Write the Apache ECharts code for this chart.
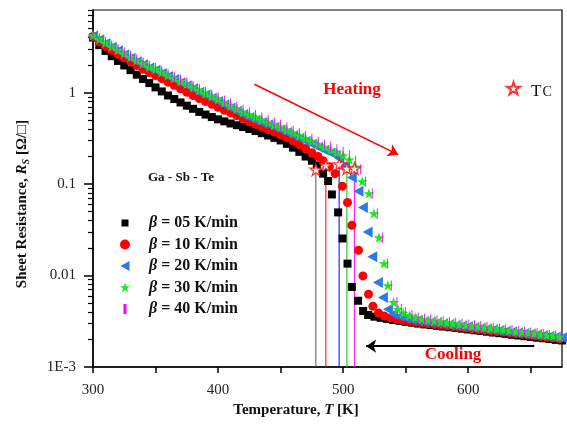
<!DOCTYPE html>
<html><head><meta charset="utf-8">
<script src="https://cdn.jsdelivr.net/npm/echarts@6.0.0/dist/echarts.min.js"></script>
<style>html,body{margin:0;padding:0;background:#fff}#c{width:567px;height:430px}</style>
</head><body><div id="c"></div>
<script>
// ---------- data ----------
const seriesNames = ['β = 05 K/min', 'β = 10 K/min', 'β = 20 K/min', 'β = 30 K/min', 'β = 40 K/min'];

const temp05 = [300,305,310,315,320,325,330,335,340,345,350,355,360,365,370,375,380,385,390,395,400,405,410,415,420,425,430,435,440,445,450,455,460,465,470,475,
  479,484,488,491,496,499.5,503.5,507,512,516,
  520,525,530,535,540,545,550,555,560,565,570,575,580,585,590,595,600,605,610,615,620,625,630,635,640,645,650,655,660,665,670,675];
const res05 = [4.0,3.3,2.85,2.5,2.22,1.98,1.76,1.57,1.41,1.27,1.14,1.03,0.93,0.85,0.78,0.72,0.665,0.615,0.575,0.54,0.51,0.485,0.46,0.44,0.42,0.40,0.38,0.36,0.34,0.32,0.30,0.275,0.25,0.225,0.2,0.18,
  0.16,0.13,0.108,0.077,0.049,0.0254,0.0135,0.0075,0.0053,0.0041,
  0.0037,0.00355,0.00345,0.00336,0.00327,0.00319,0.00312,0.00305,0.00298,0.00292,0.00287,0.00282,0.00277,0.00272,0.00267,0.00262,0.00257,0.00252,0.00248,0.00243,0.00238,0.00234,0.0023,0.00225,0.00221,0.00217,0.00213,0.00209,0.00206,0.00202,0.00198,0.00195];

const temp10 = [300,305,310,315,320,325,330,335,340,345,350,355,360,365,370,375,380,385,390,395,400,405,410,415,420,425,430,435,440,445,450,455,460,465,470,475,480,
  484,489,493.6,499.4,503.5,507,512.3,515.8,520.3,523.8,528.3,
  533,538,543,548,553,558,563,568,573,578,583,588,593,598,603,608,613,618,623,628,633,638,643,648,653,658,663,668,673];
const res10 = [4.1,3.6,3.2,2.9,2.62,2.4,2.18,1.98,1.8,1.66,1.54,1.42,1.3,1.2,1.1,1.01,0.93,0.86,0.8,0.745,0.69,0.64,0.6,0.56,0.52,0.48,0.45,0.42,0.395,0.37,0.345,0.32,0.295,0.27,0.245,0.22,0.2,
  0.18,0.155,0.13,0.0946,0.0628,0.0355,0.0189,0.0099,0.00625,0.00462,0.00389,
  0.0036,0.00345,0.00333,0.00323,0.00315,0.00309,0.00303,0.00297,0.00292,0.00287,0.00282,0.00277,0.00272,0.00267,0.00262,0.00257,0.00253,0.00249,0.00244,0.0024,0.00236,0.00231,0.00227,0.00223,0.00219,0.00215,0.00211,0.00207,0.00203];

const temp20 = [300,305,310,315,320,325,330,335,340,345,350,355,360,365,370,375,380,385,390,395,400,405,410,415,420,425,430,435,440,445,450,455,460,465,470,475,480,485,490,
  494,497,501.6,507,512.3,515.8,519.6,523.3,527.8,531.8,535.8,
  540,545,550,555,560,565,570,575,580,585,590,595,600,605,610,615,620,625,630,635,640,645,650,655,660,665,670,675];
const res20 = [4.15,3.78,3.44,3.13,2.86,2.6,2.37,2.18,2.02,1.86,1.75,1.62,1.5,1.39,1.28,1.19,1.1,1.01,0.94,0.865,0.8,0.736,0.68,0.625,0.575,0.533,0.5,0.472,0.444,0.417,0.393,0.366,0.34,0.316,0.294,0.273,0.253,0.235,0.219,
  0.206,0.19,0.16,0.118,0.0834,0.0554,0.03,0.016,0.0084,0.00575,0.00428,
  0.0038,0.00358,0.00343,0.00331,0.00322,0.00315,0.00309,0.00303,0.00297,0.00291,0.00285,0.0028,0.00275,0.0027,0.00265,0.0026,0.00255,0.0025,0.00246,0.00241,0.00237,0.00233,0.00229,0.00225,0.00221,0.00217,0.00213,0.00209];

const temp30 = [300,305,310,315,320,325,330,335,340,345,350,355,360,365,370,375,380,385,390,395,400,405,410,415,420,425,430,435,440,445,450,455,460,465,470,475,480,485,490,495,500,505,510,
  515.3,520.6,524.6,528.7,532.7,535.8,540.3,543.8,
  548,553,558,563,568,573,578,583,588,593,598,603,608,613,618,623,628,633,638,643,648,653,658,663,668,673];
const res30 = [4.2,3.85,3.5,3.2,2.93,2.68,2.45,2.25,2.08,1.92,1.8,1.67,1.55,1.44,1.33,1.24,1.15,1.06,0.98,0.91,0.85,0.78,0.72,0.665,0.615,0.575,0.54,0.505,0.475,0.445,0.42,0.39,0.365,0.34,0.316,0.295,0.273,0.254,0.237,0.222,0.205,0.185,0.155,
  0.107,0.0787,0.0476,0.026,0.0135,0.0078,0.0051,0.0043,
  0.0039,0.00365,0.00347,0.00333,0.00325,0.00318,0.00312,0.00305,0.00299,0.00293,0.00287,0.00281,0.00276,0.0027,0.00265,0.0026,0.00255,0.0025,0.00245,0.0024,0.00236,0.00232,0.00227,0.00223,0.00219,0.00213];

const temp40 = [300,305,310,315,320,325,330,335,340,345,350,355,360,365,370,375,380,385,390,395,400,405,410,415,420,425,430,435,440,445,450,455,460,465,470,475,480,485,490,495,500,505,510,
  514,518,523.3,527.3,531.4,535.4,538.5,543,546.5,
  550,555,560,565,570,575,580,585,590,595,600,605,610,615,620,625,630,635,640,645,650,655,660,665,670,675];
const res40 = [4.25,3.92,3.58,3.28,3.0,2.76,2.53,2.32,2.14,1.98,1.86,1.72,1.6,1.49,1.38,1.28,1.19,1.1,1.02,0.95,0.89,0.82,0.76,0.70,0.65,0.61,0.57,0.535,0.5,0.47,0.445,0.415,0.385,0.36,0.335,0.312,0.29,0.27,0.255,0.24,0.225,0.205,0.18,
  0.145,0.107,0.0787,0.0476,0.026,0.0135,0.0078,0.0051,0.0043,
  0.004,0.0037,0.00348,0.00337,0.0033,0.00324,0.00317,0.0031,0.00304,0.00298,0.00292,0.00286,0.00281,0.00275,0.00269,0.00264,0.00259,0.00254,0.00248,0.00243,0.00238,0.00234,0.00229,0.00224,0.0022,0.00215];

// transition temperatures Tc (one per rate) and the resistance there
const tcTemp = [478.2, 486.2, 496.8, 503, 509];
const tcRes  = [0.144, 0.16, 0.165, 0.148, 0.148];

// axis ticks / labels
const xTicks  = [300,350,400,450,500,550,600,650];
const xLabels = [300,400,500,600];
const yMajor  = [0.001,0.01,0.1,1];
const yMajorText = ['1E-3','0.01','0.1','1'];
const yMinor  = [0.002,0.003,0.004,0.005,0.006,0.007,0.008,0.009,
                 0.02,0.03,0.04,0.05,0.06,0.07,0.08,0.09,
                 0.2,0.3,0.4,0.5,0.6,0.7,0.8,0.9,
                 2,3,4,5,6,7,8];
const xMin = 300, xMax = 675, yMin = 0.001, yMax = 8;

// annotation arrows (data coordinates)
const heatArrow = [[429, 1.232], [544, 0.21]];
const coolArrow = [[652.8, 0.001688], [518.4, 0.001688]];

// ---------- styling ----------
const colors = ['#000000', '#ff0000', '#2c7be5', '#1ee61e', '#ff00ff'];
const lineColors = ['#555555', '#ff0000', '#0000ff', '#00c000', '#ff00ff'];
const STAR = 'path://M50,0L61.2,34.5L97.6,34.5L68.2,55.9L79.4,90.5L50,69.1L20.6,90.5L31.8,55.9L2.4,34.5L38.8,34.5Z';
const TRI_LEFT = 'path://M0,50L90,0L90,100Z';
const BAR = 'path://M0,0L3,0L3,10L0,10Z';
const symbols = ['rect', 'circle', TRI_LEFT, STAR, BAR];
const symbolSizes = [8, 9, [11, 11], 11, [3, 10]];
const legendIcons = ['path://M0,0M10,10M1.5,1.5L8.5,1.5L8.5,8.5L1.5,8.5Z', 'circle', TRI_LEFT, STAR, BAR];
const SERIF = '"Liberation Serif", "DejaVu Serif", serif';

const temps = [temp05, temp10, temp20, temp30, temp40];
const ress = [res05, res10, res20, res30, res40];
const pts = (T, R) => T.map((t, i) => [t, R[i]]);

const series = [];
// vertical Tc lines
tcTemp.forEach((t, i) => {
  series.push({
    type: 'line', name: 'tcline' + i, silent: true, symbol: 'none',
    data: [[t, tcRes[i]], [t, yMin]],
    lineStyle: { color: lineColors[i], width: 1 }, z: 2
  });
});
// heating / cooling data
seriesNames.forEach((n, i) => {
  series.push({
    type: 'scatter', name: n, data: pts(temps[i], ress[i]),
    symbol: symbols[i], symbolSize: symbolSizes[i], symbolKeepAspect: true,
    itemStyle: { color: colors[i], opacity: 1 }, z: 3 + i
  });
});
// Tc stars
series.push({
  type: 'scatter', name: 'Tc', data: pts(tcTemp, tcRes),
  symbol: STAR, symbolSize: 12,
  itemStyle: { color: '#ffffff', borderColor: '#ff0000', borderWidth: 1.2 }, z: 10
});
// arrows
[[heatArrow, '#ff0000', 1.6], [coolArrow, '#000000', 2]].forEach(([a, c, w], k) => {
  series.push({
    type: 'line', name: 'arrow' + k, data: [], color: c, itemStyle: { color: c }, z: 11,
    markLine: {
      silent: true, symbol: ['none', 'arrow'], symbolSize: 10, label: { show: false },
      itemStyle: { color: c },
      lineStyle: { color: c, width: w, type: 'solid' },
      data: [[{ coord: a[0] }, { coord: a[1] }]]
    }
  });
});

const chart = echarts.init(document.getElementById('c'), null, { renderer: 'canvas' });
chart.setOption({
  animation: false,
  backgroundColor: '#ffffff',
  grid: { left: 93, right: 5, top: 10, bottom: 63, show: true, borderColor: '#000', borderWidth: 1.2, backgroundColor: 'transparent' },
  legend: [{
    data: seriesNames.map((n, i) => ({ name: n, icon: legendIcons[i] })),
    orient: 'vertical', left: 115, top: 210, itemWidth: 10, itemHeight: 10, itemGap: 5.5,
    symbolKeepAspect: true, selectedMode: false,
    formatter: n => '{b|β}{t|' + n.slice(1) + '}',
    textStyle: {
      rich: {
        b: { fontFamily: SERIF, fontStyle: 'italic', fontWeight: 'bold', fontSize: 16, color: '#111', padding: [0, 0, 0, 14], lineHeight: 15 },
        t: { fontFamily: SERIF, fontWeight: 'bold', fontSize: 16, color: '#111', lineHeight: 15 }
      }
    }
  }, {
    data: [{ name: 'Tc', icon: STAR }],
    left: 501, top: 76, itemWidth: 13, itemHeight: 13, selectedMode: false,
    formatter: () => '{t|T}{s|C}',
    textStyle: {
      rich: {
        t: { fontFamily: SERIF, fontSize: 17, color: '#111', padding: [0, 0, 0, 6], verticalAlign: 'bottom' },
        s: { fontFamily: SERIF, fontSize: 14, color: '#111', padding: [9, 0, 0, 1] }
      }
    }
  }],
  xAxis: {
    type: 'value', min: xMin, max: xMax,
    name: 'Temperature, {i|T} [K]', nameLocation: 'middle', nameGap: 36,
    nameTextStyle: { fontFamily: SERIF, fontWeight: 'bold', fontSize: 15, color: '#111', padding: [0, 63, 0, 0],
      rich: { i: { fontFamily: SERIF, fontWeight: 'bold', fontStyle: 'italic', fontSize: 15, color: '#111' } } },
    axisLine: { show: true, onZero: false, lineStyle: { color: '#000', width: 1.5 } },
    axisTick: { show: true, inside: false, length: 6, customValues: xTicks, lineStyle: { color: '#000', width: 1.5 } },
    axisLabel: { customValues: xLabels, margin: 16, fontFamily: SERIF, fontSize: 15, color: '#222' },
    splitLine: { show: false }
  },
  yAxis: [{
    type: 'log', logBase: 10, min: yMin, max: yMax,
    name: 'Sheet Resistance, {i|R}{s|S} [Ω/□]', nameLocation: 'middle', nameGap: 62, nameRotate: 90,
    nameTextStyle: { fontFamily: SERIF, fontWeight: 'bold', fontSize: 15, color: '#111', padding: [0, 31, 0, 0],
      rich: {
        i: { fontFamily: SERIF, fontWeight: 'bold', fontStyle: 'italic', fontSize: 15, color: '#111' },
        s: { fontFamily: SERIF, fontWeight: 'bold', fontStyle: 'italic', fontSize: 10, color: '#111', padding: [7, 0, 0, 0] }
      } },
    axisLine: { show: true, onZero: false, lineStyle: { color: '#000', width: 1.5 } },
    axisTick: { show: true, length: 9, customValues: yMajor, lineStyle: { color: '#000', width: 1.5 } },
    axisLabel: {
      customValues: yMajor, margin: 17, fontFamily: SERIF, fontSize: 15, color: '#222',
      formatter: v => yMajorText[Math.round(Math.log10(v)) + 3]
    },
    splitLine: { show: false }
  }, {
    type: 'log', logBase: 10, min: yMin, max: yMax, position: 'left',
    axisLine: { show: false },
    axisTick: { show: true, length: 5, customValues: yMinor, lineStyle: { color: '#000', width: 1.2 } },
    axisLabel: { show: false },
    splitLine: { show: false }
  }],
  graphic: [
    { type: 'text', x: 352, y: 90, style: { text: 'Heating', fill: '#ff0000', font: 'bold 17px ' + SERIF, align: 'center', verticalAlign: 'middle' } },
    { type: 'text', x: 453, y: 355, style: { text: 'Cooling', fill: '#ff0000', font: 'bold 17px ' + SERIF, align: 'center', verticalAlign: 'middle' } },
    { type: 'text', x: 181, y: 178, style: { text: 'Ga - Sb - Te', fill: '#111', font: 'bold 13px ' + SERIF, align: 'center', verticalAlign: 'middle' } }
  ],
  series: series
});
</script>
</body></html>
